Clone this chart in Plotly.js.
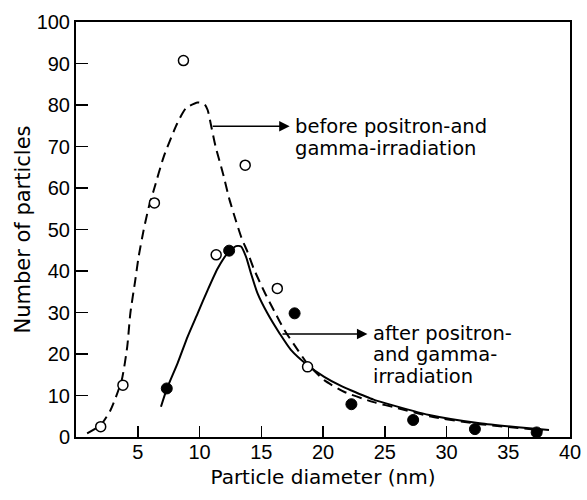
<!DOCTYPE html>
<html>
<head>
<meta charset="utf-8">
<script src="https://cdn.plot.ly/plotly-3.0.1.min.js"></script>
<style>html,body{margin:0;padding:0;background:#fff;}#chart{width:587px;height:500px;}</style>
</head>
<body>
<div id="chart"></div>
<script>
// Measured points: before irradiation (open circles)
const beforeX = [2.0, 3.8, 6.35, 8.7, 11.35, 13.7, 16.3, 18.75];
const beforeY = [2.5, 12.5, 56.4, 90.7, 43.9, 65.5, 35.8, 16.9];
// Measured points: after irradiation (filled circles)
const afterX = [7.35, 12.4, 17.7, 22.3, 27.3, 32.3, 37.3];
const afterY = [11.7, 44.9, 29.8, 7.9, 4.1, 1.9, 1.1];
// Fitted curve, before (dashed)
const beforeFitX = [0.9, 2.0, 2.8, 3.7, 4.15, 4.4, 4.8, 5.07, 5.48, 5.9, 6.3, 7.1, 8.2, 8.9, 9.85, 10.4, 10.66, 10.9, 11.3, 11.9, 12.4, 12.96, 13.4, 13.9, 14.4, 15.25, 16.06, 16.87, 17.95, 18.76, 20.1, 21.7, 24.1, 26.0, 28.6, 32.7, 36.7, 37.8];
const beforeFitY = [0.9, 2.9, 6.5, 13.7, 21.8, 29.8, 37.8, 43.4, 49.9, 55.5, 59.5, 67.5, 75.6, 79.2, 80.6, 80.2, 78.8, 75.6, 70, 63.5, 57.5, 52, 48, 44.5, 40.5, 35.0, 30.3, 25.8, 21.0, 17.6, 13.7, 10.9, 8.4, 7.0, 5.0, 3.1, 1.9, 1.5];
// Fitted curve, after (solid)
const afterFitX = [6.88, 7.37, 8.23, 9.04, 9.85, 10.66, 11.47, 12.28, 12.96, 13.36, 13.77, 14.17, 14.7, 15.5, 16.5, 17.4, 18.76, 20.1, 21.46, 22.3, 24.1, 25.1, 28.6, 32.7, 36.7, 38.3];
const afterFitY = [7.3, 11.7, 17.8, 24.2, 29.8, 35.4, 40.6, 44.3, 46.0, 45.9, 43.4, 39.4, 34.6, 29.8, 24.9, 21.0, 17.3, 14.5, 12.3, 11.2, 9.0, 8.1, 5.3, 3.3, 2.1, 1.7];
// Axis ticks and labels
const xTicks = [5, 10, 15, 20, 25, 30, 35, 40];
const yTicks = [0, 10, 20, 30, 40, 50, 60, 70, 80, 90, 100];
const xTitle = "Particle diameter (nm)";
const yTitle = "Number of particles";
const beforeLabel = ["before positron-and", "gamma-irradiation"];
const afterLabel = ["after positron-", "and gamma-", "irradiation"];

const TICKFONT = "Liberation Sans, Arial, sans-serif";
const FONT = "DejaVu Sans, sans-serif";

const traces = [
  {x: beforeFitX, y: beforeFitY, mode: "lines", line: {color: "#000", width: 2, dash: "10px,6px", shape: "spline", smoothing: 0.6}, hoverinfo: "skip", showlegend: false},
  {x: afterFitX, y: afterFitY, mode: "lines", line: {color: "#000", width: 2, shape: "spline", smoothing: 0.6}, hoverinfo: "skip", showlegend: false},
  {x: beforeX, y: beforeY, mode: "markers", marker: {symbol: "circle", size: 10, color: "#fff", line: {color: "#000", width: 1.5}}, cliponaxis: false, showlegend: false},
  {x: afterX, y: afterY, mode: "markers", marker: {symbol: "circle", size: 11, color: "#000", line: {color: "#000", width: 1}}, cliponaxis: false, showlegend: false}
];

const annFont = {family: FONT, size: 19.5, color: "#000"};
const annotations = [];
// arrows
annotations.push({x: 17.3, y: 74.9, ax: 10.95, ay: 74.9, xref: "x", yref: "y", axref: "x", ayref: "y", text: "", showarrow: true, arrowhead: 2, arrowsize: 1.4, arrowwidth: 1.5, arrowcolor: "#000", standoff: 0, startstandoff: 0});
annotations.push({x: 23.6, y: 24.8, ax: 16.6, ay: 24.8, xref: "x", yref: "y", axref: "x", ayref: "y", text: "", showarrow: true, arrowhead: 2, arrowsize: 1.4, arrowwidth: 1.5, arrowcolor: "#000", standoff: 0, startstandoff: 0});
beforeLabel.forEach((t, i) => annotations.push({x: 17.55, y: 74.9 - i * 5.3, xref: "x", yref: "y", text: t, showarrow: false, xanchor: "left", yanchor: "middle", font: annFont}));
afterLabel.forEach((t, i) => annotations.push({x: 23.85, y: 25.0 - i * 5.2, xref: "x", yref: "y", text: t, showarrow: false, xanchor: "left", yanchor: "middle", font: annFont}));

const layout = {
  width: 587, height: 500,
  margin: {l: 76, r: 17, t: 22, b: 63},
  paper_bgcolor: "#fff", plot_bgcolor: "#fff",
  font: {family: FONT, color: "#000"},
  showlegend: false,
  xaxis: {
    range: [0, 40], tickvals: xTicks, ticktext: xTicks.map(String),
    ticks: "inside", ticklen: 11, tickwidth: 1.5, tickcolor: "#000",
    showline: true, linewidth: 2, linecolor: "#000", mirror: true,
    showgrid: false, zeroline: false,
    ticklabelstandoff: -4,
    tickfont: {family: TICKFONT, size: 20, color: "#000"},
    title: {text: xTitle, font: {family: FONT, size: 20, color: "#000"}, standoff: 8}
  },
  yaxis: {
    range: [0, 100], tickvals: yTicks, ticktext: yTicks.map(String),
    ticks: "inside", ticklen: 12, tickwidth: 1.5, tickcolor: "#000",
    showline: true, linewidth: 2, linecolor: "#000", mirror: true,
    showgrid: false, zeroline: false,
    tickfont: {family: TICKFONT, size: 20, color: "#000"},
    title: {text: yTitle, font: {family: FONT, size: 21, color: "#000"}, standoff: 0}
  },
  annotations: annotations
};

Plotly.newPlot("chart", traces, layout, {staticPlot: true, displayModeBar: false});
</script>
</body>
</html>
